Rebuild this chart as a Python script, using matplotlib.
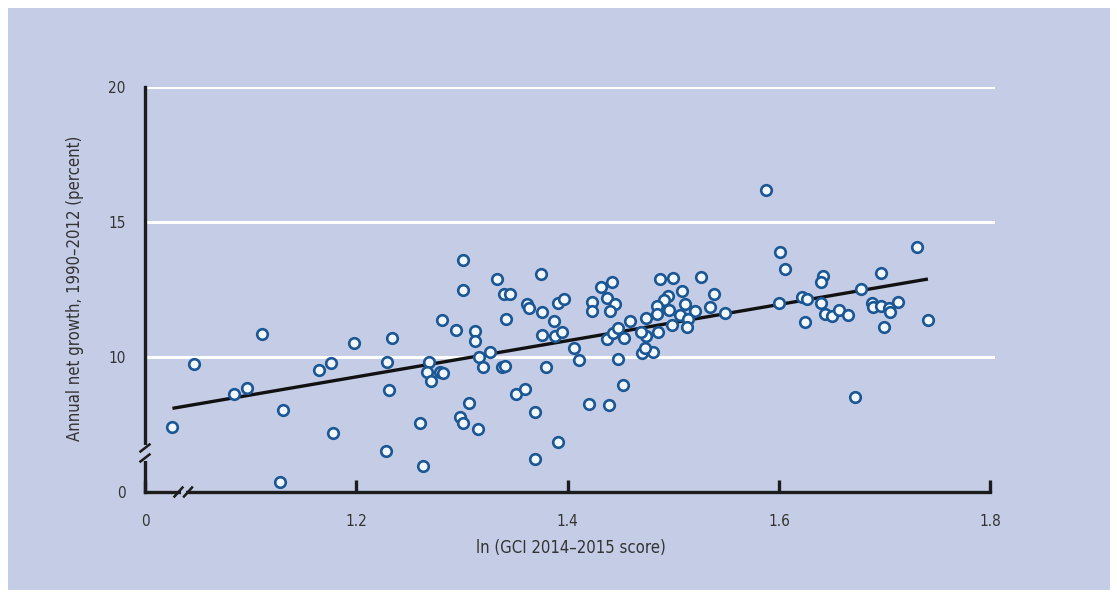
import matplotlib
matplotlib.use("Agg")
import matplotlib.pyplot as plt
from matplotlib.patches import Rectangle
import numpy as np

# ln(GCI score) vs annual net growth
gci_ln = [
    1.026, 1.046, 1.084, 1.097, 1.111, 1.131, 1.128, 1.165, 1.176, 1.178,
    1.198, 1.234, 1.229, 1.231, 1.228,
    1.301, 1.301, 1.281, 1.294, 1.312, 1.312, 1.333, 1.340, 1.345, 1.375,
    1.342, 1.362, 1.363, 1.376, 1.387, 1.391, 1.376, 1.388, 1.269, 1.267,
    1.271, 1.279, 1.282, 1.316, 1.320, 1.327, 1.338, 1.341, 1.380, 1.307,
    1.298, 1.301, 1.315, 1.260, 1.263, 1.351, 1.360, 1.369, 1.369, 1.391,
    1.397, 1.395, 1.406, 1.411, 1.423, 1.423, 1.432, 1.442, 1.437, 1.445,
    1.440, 1.437, 1.443, 1.448, 1.453, 1.459, 1.448, 1.452, 1.420, 1.439,
    1.487, 1.500, 1.526, 1.539, 1.535, 1.508, 1.495, 1.491, 1.485, 1.496,
    1.511, 1.506, 1.521, 1.514, 1.513, 1.499, 1.485, 1.474, 1.486, 1.474,
    1.469, 1.470, 1.481, 1.473,
    1.588, 1.601, 1.606, 1.600, 1.549, 1.622, 1.627, 1.625, 1.642, 1.640,
    1.640, 1.644, 1.650, 1.657, 1.665, 1.672, 1.678, 1.697, 1.688, 1.689,
    1.697, 1.704, 1.705, 1.713, 1.699, 1.731, 1.741,
]
growth = [
    7.42, 9.74, 8.62, 8.86, 10.84, 8.03, 5.38, 9.52, 9.76, 7.17,
    10.53, 10.72, 9.80, 8.77, 6.53,
    13.59, 12.48, 11.37, 11.00, 10.98, 10.60, 12.90, 12.33, 12.33, 13.09,
    11.41, 11.96, 11.80, 11.65, 11.32, 11.99, 10.81, 10.78, 9.80, 9.43,
    9.12, 9.46, 9.42, 10.01, 9.64, 10.19, 9.62, 9.67, 9.62, 8.28,
    7.79, 7.54, 7.33, 7.57, 5.97, 8.63, 8.81, 7.96, 6.22, 6.84,
    12.15, 10.91, 10.35, 9.89, 12.05, 11.70, 12.60, 12.76, 12.20, 11.96,
    11.70, 10.65, 10.88, 11.09, 10.69, 11.33, 9.93, 8.98, 8.26, 8.23,
    12.88, 12.91, 12.95, 12.33, 11.84, 12.44, 12.26, 12.11, 11.89, 11.74,
    11.96, 11.56, 11.71, 11.41, 11.12, 11.19, 11.59, 11.43, 10.94, 10.78,
    10.94, 10.14, 10.17, 10.32,
    16.19, 13.88, 13.26, 11.99, 11.62, 12.23, 12.14, 11.31, 13.00, 12.77,
    12.01, 11.59, 11.53, 11.74, 11.56, 8.53, 12.51, 13.10, 11.99, 11.84,
    11.89, 11.80, 11.68, 12.05, 11.12, 14.06, 11.37,
]

# both axes are broken: the "0" label sits where the scale is cut
x_ticks = [1.0, 1.2, 1.4, 1.6, 1.8]
x_labels = ["0", "1.2", "1.4", "1.6", "1.8"]
y_ticks = [5, 10, 15, 20]
y_labels = ["0", "10", "15", "20"]
grid_levels = [10, 15, 20]

BG = "#c5cce6"
INK = "#1c1c1c"
TXT = "#333333"
plt.rcParams["font.family"] = ["DejaVu Sans"]
plt.rcParams["font.stretch"] = "condensed"

W, H = 1117, 596
fig = plt.figure(figsize=(W / 100, H / 100), dpi=100)
fig.patch.set_facecolor("white")
fig.patches.append(Rectangle((8 / W, 6 / H), 1102 / W, 582 / H,
                             transform=fig.transFigure, facecolor=BG,
                             edgecolor="none", zorder=-10))

ax = fig.add_axes([145 / W, 1 - 492 / H, 850 / W, 405 / H])
ax.set_facecolor("none")
ax.set_xlim(1.0, 1.8045)
ax.set_ylim(5, 20)

for lvl in grid_levels:
    ax.axhline(lvl, color="white", lw=2.2, zorder=1)

ax.scatter(gci_ln, growth, s=58, facecolor="#f3f8ff", edgecolor="#1b5794",
           linewidth=1.9, zorder=3, clip_on=False)

coef = np.polyfit(gci_ln, growth, 1)
xs = np.array([min(gci_ln), max(gci_ln)])
ax.plot(xs, np.polyval(coef, xs), color="#111111", lw=2.4, zorder=2.6,
        solid_capstyle="butt")

for side in ["top", "right"]:
    ax.spines[side].set_visible(False)
for side in ["left", "bottom"]:
    ax.spines[side].set_linewidth(2.4)
    ax.spines[side].set_color(INK)
ax.spines["bottom"].set_bounds(1.0, 1.8)
ax.spines["left"].set_bounds(5, 20)

ax.set_xticks(x_ticks)
ax.set_xticklabels(x_labels)
ax.set_yticks(y_ticks)
ax.set_yticklabels(y_labels)
ax.tick_params(axis="x", direction="in", length=9, width=2.4, color=INK,
               pad=16, labelsize=11, labelcolor=TXT)
ax.tick_params(axis="y", length=0, pad=14, labelsize=11, labelcolor=TXT)

# axis break marks (1 px = 1/1056.5 in x, 1/27 in y)
px, py = 1 / 1056.5, 1 / 27
ax.plot([1.0, 1.0], [6.15, 6.74], color=BG, lw=4, zorder=5, clip_on=False,
        solid_capstyle="butt")
for yc in [6.63, 6.26]:
    ax.plot([1.0 - 4.5 * px, 1.0 + 4.5 * px], [yc - 3.5 * py, yc + 3.5 * py],
            color=INK, lw=1.8, zorder=6, clip_on=False)
ax.plot([1.034, 1.039], [5, 5], color=BG, lw=4, zorder=5, clip_on=False,
        solid_capstyle="butt")
for xc in [1.0317, 1.0407]:
    ax.plot([xc - 4 * px, xc + 4 * px], [5 - 4.5 * py, 5 + 4.5 * py],
            color=INK, lw=1.8, zorder=6, clip_on=False)

fig.text(571 / W, 1 - 548 / H, "ln (GCI 2014\u20132015 score)", ha="center",
         va="center", fontsize=12, color=TXT)
fig.text(75 / W, 1 - 288 / H, "Annual net growth, 1990\u20132012 (percent)",
         ha="center", va="center", rotation=90, fontsize=12, color=TXT)

fig.savefig("out.png", dpi=100, facecolor=fig.get_facecolor())
